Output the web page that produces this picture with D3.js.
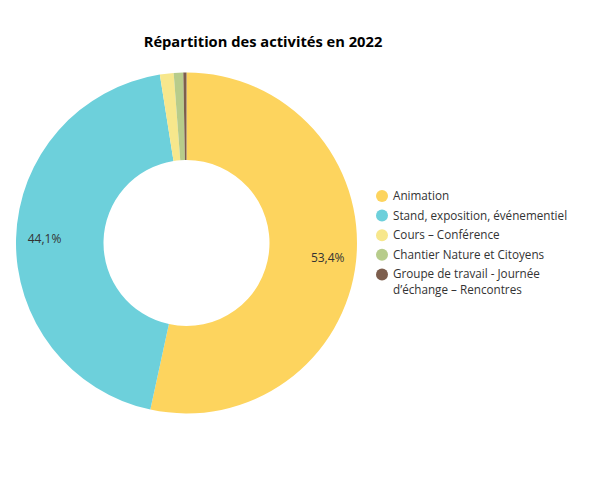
<!DOCTYPE html>
<html><head><meta charset="utf-8">
<script src="https://cdn.jsdelivr.net/npm/d3@7"></script>
<style>body{margin:0;background:#fff;} svg{display:block;}</style>
</head><body>
<svg id="c" width="600" height="489"></svg>
<script>
const categories = ["Animation","Stand, exposition, événementiel","Cours – Conférence","Chantier Nature et Citoyens","Groupe de travail - Journée d'échange – Rencontres"];
const values = [53.4, 44.1, 1.3, 0.9, 0.3];
const labels = ["53,4%","44,1%","","",""];
const colors = ["#FDD45E","#6DD0DB","#F7E78C","#B7CC8B","#7D5E4D"];
const legendLines = [["Animation"],["Stand, exposition, événementiel"],["Cours – Conférence"],["Chantier Nature et Citoyens"],["Groupe de travail - Journée","d’échange – Rencontres"]];

const svg = d3.select("#c");
const cx = 186.5, cy = 243, R = 170.5, r0 = 83;
const data = categories.map((c,i)=>({c, v:values[i], l:labels[i], col:colors[i]}));
const pie = d3.pie().value(d=>d.v).sort(null);
const arc = d3.arc().innerRadius(r0).outerRadius(R);
const labArc = d3.arc().innerRadius(142).outerRadius(142);
const g = svg.append("g").attr("transform",`translate(${cx},${cy})`);
const arcs = pie(data);
g.selectAll("path").data(arcs).join("path").attr("d",arc).attr("fill",d=>d.data.col);
g.selectAll("text").data(arcs.filter(d=>d.data.l)).join("text")
  .attr("transform",d=>`translate(${labArc.centroid(d)})`)
  .attr("text-anchor","middle").attr("dy","0.35em")
  .style("font-family","'Open Sans'").style("font-size","12px").attr("fill","#333")
  .text(d=>d.data.l);

svg.append("text").attr("x",263).attr("y",47).attr("text-anchor","middle")
  .style("font-family","'Open Sans'").style("font-weight","bold").style("font-size","14.7px").attr("fill","#000")
  .text("Répartition des activités en 2022");

const lg = svg.append("g");
let y = 196;
legendLines.forEach((lines,i)=>{
  lg.append("circle").attr("cx",382).attr("cy",y).attr("r",6).attr("fill",colors[i]);
  lines.forEach((t,j)=>{
    lg.append("text").attr("x",393).attr("y",y+j*16).attr("dy","0.35em")
      .style("font-family","'Open Sans'").style("font-size","11.7px").attr("fill","#333").text(t);
  });
  y += 19.6;
});
</script>
</body></html>
